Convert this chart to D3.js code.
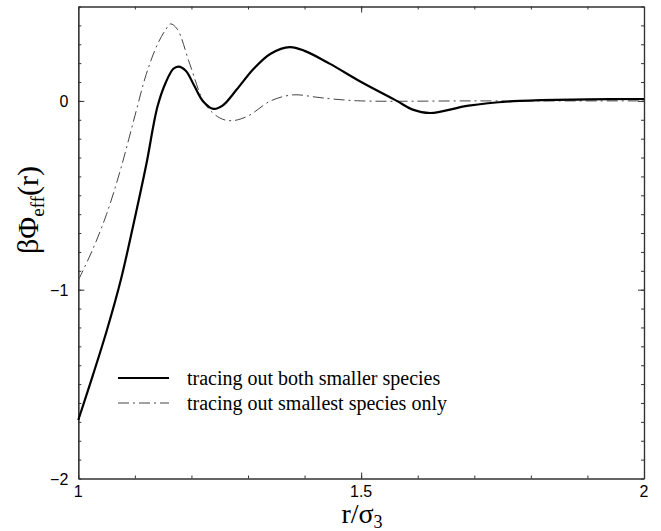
<!DOCTYPE html>
<html>
<head>
<meta charset="utf-8">
<script src="https://cdn.jsdelivr.net/npm/d3@7"></script>
<style>
  body { margin: 0; background: #fff; }
  svg { display: block; }
</style>
</head>
<body>
<div id="viz"></div>
<script>
// r/sigma_3 and beta*Phi_eff(r)
const rBoth = [1.000, 1.025, 1.050, 1.075, 1.100, 1.120, 1.140, 1.155, 1.168, 1.177, 1.190, 1.205, 1.220, 1.239, 1.255, 1.280, 1.310, 1.340, 1.374, 1.400, 1.445, 1.500, 1.563, 1.590, 1.622, 1.690, 1.780, 1.900, 2.000];
const phiBoth = [-1.69, -1.46, -1.22, -0.95, -0.62, -0.34, -0.03, 0.10, 0.17, 0.182, 0.16, 0.08, 0.0, -0.042, -0.025, 0.06, 0.17, 0.25, 0.285, 0.265, 0.196, 0.10, 0.0, -0.045, -0.064, -0.025, 0.0, 0.008, 0.01];

const rSmallest = [1.000, 1.025, 1.050, 1.075, 1.100, 1.120, 1.140, 1.155, 1.163, 1.175, 1.197, 1.224, 1.250, 1.271, 1.300, 1.340, 1.380, 1.420, 1.450, 1.500, 1.700, 2.000];
const phiSmallest = [-0.95, -0.79, -0.60, -0.36, -0.08, 0.14, 0.30, 0.38, 0.408, 0.38, 0.196, -0.016, -0.09, -0.105, -0.08, 0.0, 0.032, 0.02, 0.01, 0.0, 0.0, 0.0];

const xTickLabels = [1, 1.5, 2];
const yTickLabels = [0, -1, -2];
const legendLabels = ["tracing out both smaller species", "tracing out smallest species only"];

const width = 661, height = 531;
const plotLeft = 78.3, plotRight = 644, plotTop = 6.5, plotBottom = 478.5;

const svg = d3.select("#viz").append("svg")
  .attr("width", width)
  .attr("height", height);

const x = d3.scaleLinear().domain([1, 2]).range([plotLeft, plotRight]);
const y = d3.scaleLinear().domain([-2, 0.5]).range([plotBottom, plotTop]);

const minorX = d3.range(1, 2.0001, 0.1);
const minorY = d3.range(-2, 0.5001, 0.1);

const axisColor = "#333";

// ticks, all pointing inward
function addAxis(axis, transform) {
  const g = svg.append("g").attr("transform", transform).call(axis);
  g.selectAll("text").remove();
  g.select(".domain").attr("stroke", axisColor).attr("stroke-width", 1.2);
  g.selectAll(".tick line").attr("stroke", axisColor);
  return g;
}

addAxis(d3.axisBottom(x).tickValues(minorX).tickSizeInner(-3).tickSizeOuter(0), `translate(0,${plotBottom})`);
addAxis(d3.axisBottom(x).tickValues([1.5]).tickSizeInner(-6).tickSizeOuter(0), `translate(0,${plotBottom})`);
addAxis(d3.axisTop(x).tickValues(minorX).tickSizeInner(-3).tickSizeOuter(0), `translate(0,${plotTop})`);
addAxis(d3.axisTop(x).tickValues([1.5]).tickSizeInner(-6).tickSizeOuter(0), `translate(0,${plotTop})`);
addAxis(d3.axisLeft(y).tickValues(minorY).tickSizeInner(-3).tickSizeOuter(0), `translate(${plotLeft},0)`);
addAxis(d3.axisLeft(y).tickValues([0, -1]).tickSizeInner(-6).tickSizeOuter(0), `translate(${plotLeft},0)`);
addAxis(d3.axisRight(y).tickValues(minorY).tickSizeInner(-3).tickSizeOuter(0), `translate(${plotRight},0)`);
addAxis(d3.axisRight(y).tickValues([0, -1]).tickSizeInner(-6).tickSizeOuter(0), `translate(${plotRight},0)`);

// tick labels
svg.append("g").selectAll("text")
  .data(xTickLabels)
  .join("text")
  .attr("x", d => x(d))
  .attr("y", plotBottom + 18)
  .attr("text-anchor", "middle")
  .attr("font-family", "Liberation Sans, Arial, sans-serif")
  .attr("font-size", 16)
  .text(d => d);

svg.append("g").selectAll("text")
  .data(yTickLabels)
  .join("text")
  .attr("x", plotLeft - 10)
  .attr("y", d => y(d) + 6)
  .attr("text-anchor", "end")
  .attr("font-family", "Liberation Sans, Arial, sans-serif")
  .attr("font-size", 16)
  .text(d => d < 0 ? "\u2212" + Math.abs(d) : d);

// curves
const line = d3.line()
  .x(d => x(d[0]))
  .y(d => y(d[1]))
  .curve(d3.curveCatmullRom.alpha(0.5));

svg.append("path")
  .datum(d3.zip(rSmallest, phiSmallest))
  .attr("d", line)
  .attr("fill", "none")
  .attr("stroke", "#444")
  .attr("stroke-width", 1)
  .attr("stroke-dasharray", "11,4,2,4");

svg.append("path")
  .datum(d3.zip(rBoth, phiBoth))
  .attr("d", line)
  .attr("fill", "none")
  .attr("stroke", "#000")
  .attr("stroke-width", 2.2);

// legend
const legend = svg.append("g");
legend.append("line")
  .attr("x1", 118).attr("x2", 169).attr("y1", 378).attr("y2", 378)
  .attr("stroke", "#000").attr("stroke-width", 2);
legend.append("line")
  .attr("x1", 118).attr("x2", 169).attr("y1", 403).attr("y2", 403)
  .attr("stroke", "#444").attr("stroke-width", 1)
  .attr("stroke-dasharray", "11,4,2,4");
legend.selectAll("text")
  .data(legendLabels)
  .join("text")
  .attr("x", 187)
  .attr("y", (d, i) => 385 + i * 25)
  .attr("font-family", "Liberation Serif, Times New Roman, serif")
  .attr("font-size", 20)
  .text(d => d);

// axis titles
const xt = svg.append("text")
  .attr("x", 362)
  .attr("y", 523)
  .attr("text-anchor", "middle")
  .attr("font-family", "Liberation Serif, Times New Roman, serif")
  .attr("font-size", 28);
xt.append("tspan").text("r/\u03c3");
xt.append("tspan").attr("font-size", 18).attr("dy", 5).text("3");

const yt = svg.append("text")
  .attr("transform", "translate(38,210) rotate(-90)")
  .attr("text-anchor", "middle")
  .attr("font-family", "Liberation Serif, Times New Roman, serif")
  .attr("font-size", 30);
yt.append("tspan").text("\u03b2\u03a6");
yt.append("tspan").attr("font-size", 19).attr("dy", 6).text("eff");
yt.append("tspan").attr("dy", -6).text("(r)");
</script>
</body>
</html>
